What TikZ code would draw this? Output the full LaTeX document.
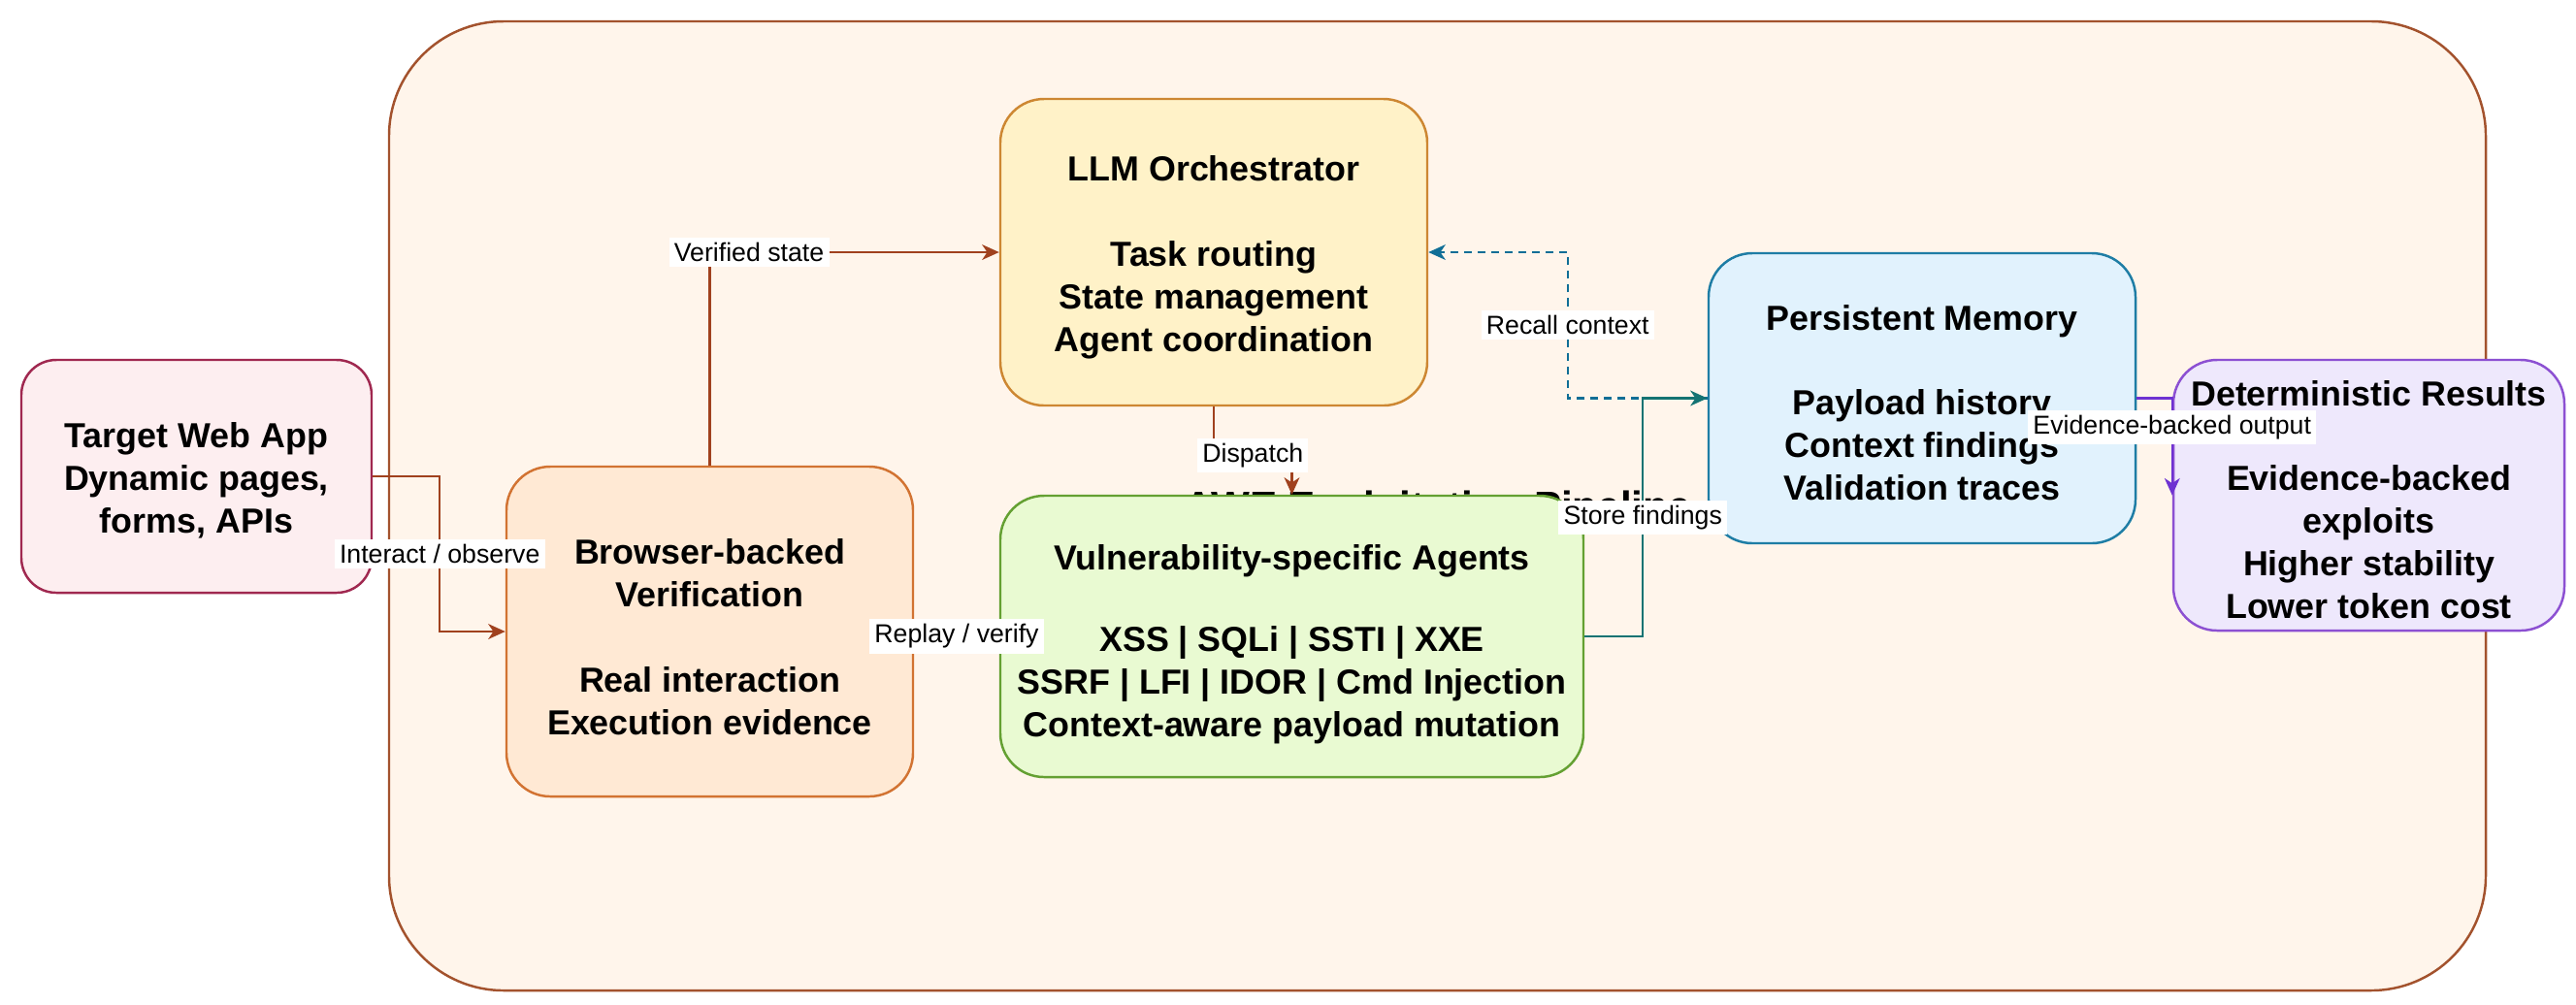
\documentclass[tikz,border=0pt]{standalone}
\usepackage{fontspec}
\setmainfont{Liberation Sans}
\usepackage{tikz}
\usetikzlibrary{arrows.meta}
\usetikzlibrary{positioning}
\usepackage{xcolor}
\definecolor{framefill}{RGB}{255,245,235}
\definecolor{framedraw}{RGB}{163,82,45}
\definecolor{targetfill}{RGB}{253,238,240}
\definecolor{targetdraw}{RGB}{160,40,80}
\definecolor{llmfill}{RGB}{255,242,200}
\definecolor{llmdraw}{RGB}{205,135,50}
\definecolor{browserfill}{RGB}{255,233,212}
\definecolor{browserdraw}{RGB}{210,115,50}
\definecolor{agentfill}{RGB}{233,250,210}
\definecolor{agentdraw}{RGB}{100,160,50}
\definecolor{memfill}{RGB}{225,242,253}
\definecolor{memdraw}{RGB}{30,125,165}
\definecolor{resfill}{RGB}{238,232,252}
\definecolor{resdraw}{RGB}{140,80,210}
\definecolor{edgebrown}{RGB}{160,65,30}
\definecolor{edgeteal}{RGB}{20,115,115}
\definecolor{edgeblue}{RGB}{16,110,150}
\definecolor{edgepurple}{RGB}{110,50,210}
\newcommand{\boxstrut}[1]{\rule{0pt}{#1}}
\tikzstyle{box} = [draw, rounded corners=0.45cm, align=center, inner sep=0, line width=0.7pt, font=\bfseries\fontsize{10.2}{12.5}\selectfont]
\tikzstyle{lbl} = [fill=white, inner sep=1.5pt, text=black, font=\fontsize{7.6}{9}\selectfont]
\tikzstyle{flow} = [-{Stealth[length=5pt, width=4.5pt, inset=1.5pt]}, line width=0.6pt]

\begin{document}
\begin{tikzpicture}
    % Canvas
    \fill[white] (0,0) rectangle (26.55,-10.35);
    \useasboundingbox (0,0) rectangle (26.55,-10.35);

    % Container and its title (mostly hidden behind the agents box)
    \node[draw=framedraw, fill=framefill, rounded corners=1.18cm, line width=0.7pt, minimum width=21.61cm, minimum height=9.99cm] (pipeline) at (14.815,-5.215) {};
    \node[font=\bfseries\fontsize{12}{14}\selectfont] (title) at (14.815,-5.255) {AWE Exploitation Pipeline};

    % Nodes
    \node[box, draw=targetdraw, fill=targetfill, rounded corners=0.36cm, minimum width=3.61cm, minimum height=2.40cm] (target) at (2.025,-4.91) {\boxstrut{10pt}Target Web App\\Dynamic pages,\\forms, APIs};
    \node[box, draw=llmdraw, fill=llmfill, minimum width=4.40cm, minimum height=3.16cm] (llm) at (12.51,-2.60) {\boxstrut{10.5pt}LLM Orchestrator\\[12.5pt]Task routing\\State management\\Agent coordination};
    \node[box, draw=browserdraw, fill=browserfill, minimum width=4.19cm, minimum height=3.40cm] (browser) at (7.315,-6.51) {\boxstrut{10.5pt}Browser-backed\\Verification\\[12.5pt]Real interaction\\Execution evidence};
    \node[box, draw=agentdraw, fill=agentfill, minimum width=6.01cm, minimum height=2.90cm] (agents) at (13.315,-6.56) {\boxstrut{12pt}Vulnerability-specific Agents\\[11.5pt]XSS | SQLi | SSTI | XXE\\SSRF | LFI | IDOR | Cmd Injection\\Context-aware payload mutation};
    \node[box, draw=memdraw, fill=memfill, minimum width=4.40cm, minimum height=2.99cm] (memory) at (19.81,-4.105) {\boxstrut{10pt}Persistent Memory\\[12.5pt]Payload history\\Context findings\\Validation traces};
    \node[box, draw=resdraw, fill=resfill, minimum width=4.03cm, minimum height=2.79cm] (results) at (24.415,-5.105) {\boxstrut{10pt}Deterministic Results\\[12.5pt]Evidence-backed\\exploits\\Higher stability\\Lower token cost};

    % Connecting lines
    \draw[flow, draw=edgebrown] (target.east) -- ++(0.69,0) |- node[lbl, pos=0.25] {Interact / observe} (browser.west);
    \draw[flow, draw=edgebrown] (browser.north) |- node[lbl, pos=0.568] {Verified state} (llm.west);
    \draw[flow, draw=edgebrown] (llm.south) -- ++(0,-0.50) -| node[lbl, pos=0.25] {Dispatch} (agents.north);
    \draw[flow, draw=edgebrown] (agents.west) -- node[lbl] {Replay / verify} (agents.west -| browser.east);
    \draw[flow, draw=edgeblue, dash pattern=on 2.3pt off 1.7pt] (memory.west) -- ++(-1.44,0) |- node[lbl, pos=0.25] {Recall context} (llm.east);
    \draw[flow, draw=edgeteal] (agents.east) -- ++(0.60,0) |- node[lbl, pos=0.25] {Store findings} (memory.west);
    \draw[flow, draw=edgepurple] (memory.east) -| node[lbl, pos=0.65] {Evidence-backed output} (results.west);
\end{tikzpicture}
\end{document}
